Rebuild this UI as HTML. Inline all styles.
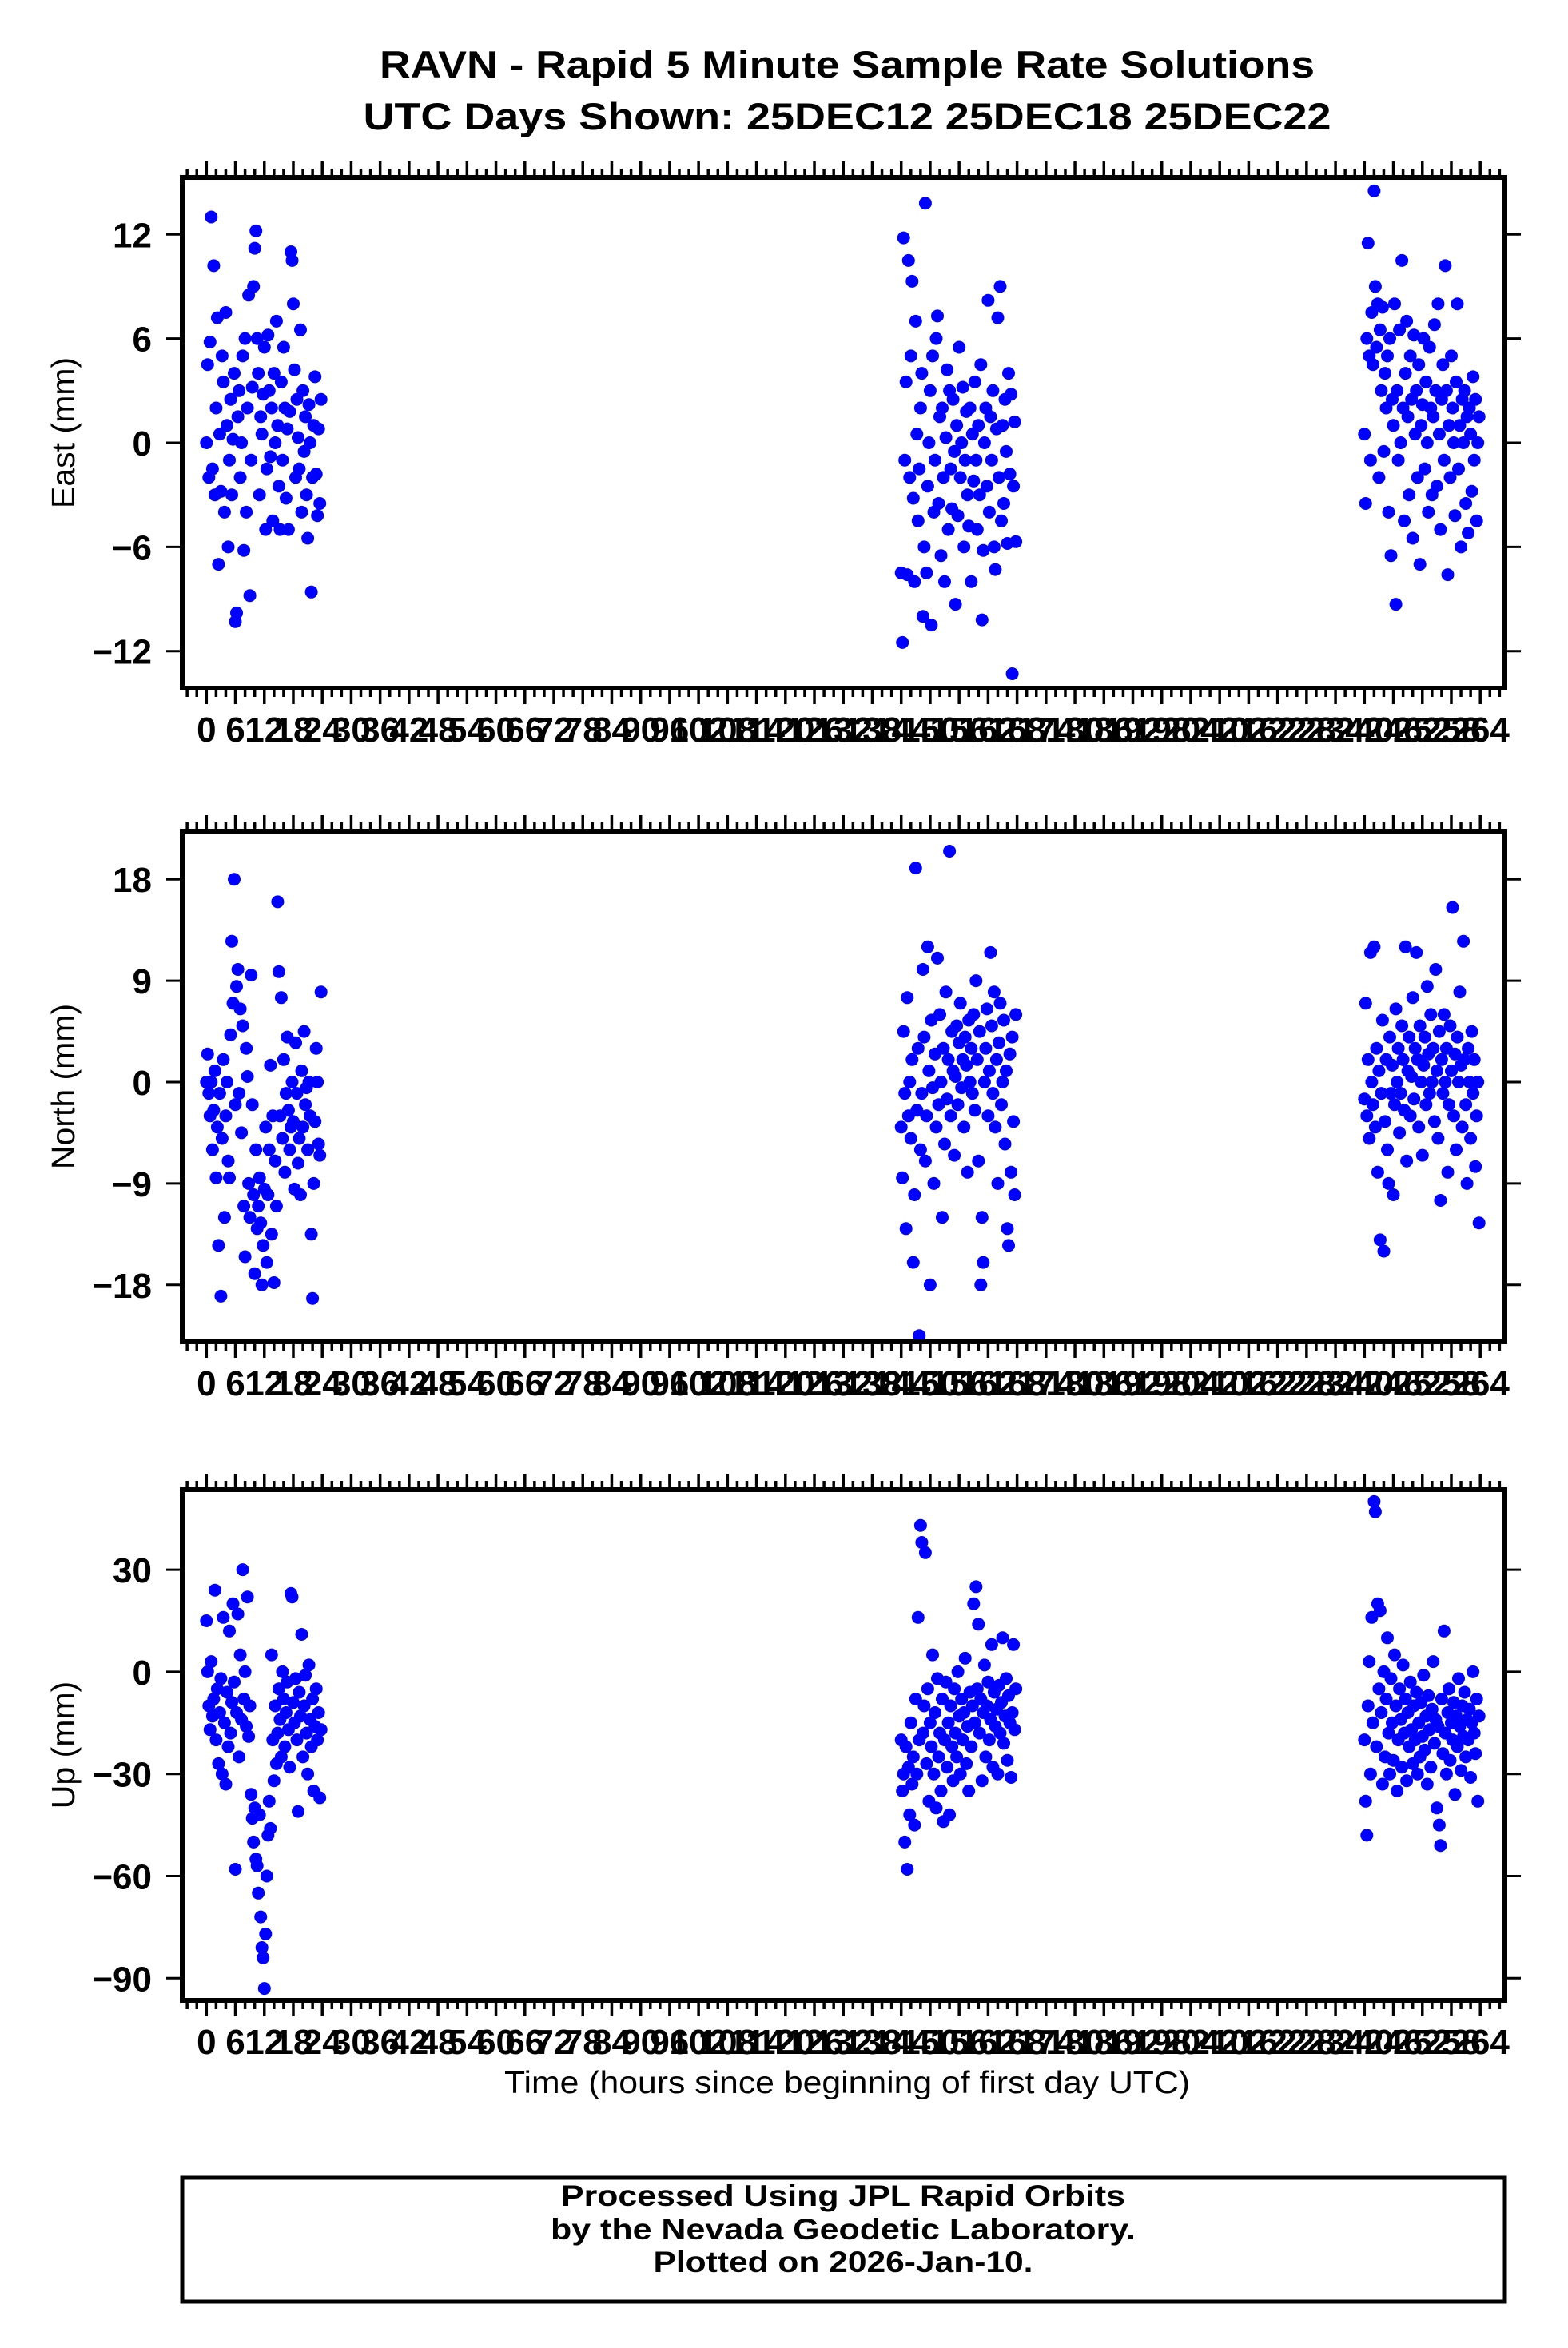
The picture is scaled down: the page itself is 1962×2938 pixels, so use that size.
<!DOCTYPE html>
<html><head><meta charset="utf-8">
<style>
html,body{margin:0;padding:0;background:#fff;}
svg{display:block;font-family:"Liberation Sans",Arial,sans-serif;}
</style></head>
<body>
<svg id="chart" width="1962" height="2938" viewBox="0 0 1962 2938" xmlns="http://www.w3.org/2000/svg">
<rect width="1962" height="2938" fill="#fff"/>
<text x="1060" y="97" text-anchor="middle" font-weight="bold" font-size="47" textLength="1170" lengthAdjust="spacingAndGlyphs">RAVN - Rapid 5 Minute Sample Rate Solutions</text>
<text x="1060" y="162" text-anchor="middle" font-weight="bold" font-size="47" textLength="1211" lengthAdjust="spacingAndGlyphs">UTC Days Shown:  25DEC12 25DEC18 25DEC22</text>
<g id="panels"></g>
<text x="1060" y="2619" text-anchor="middle" font-size="39" textLength="858" lengthAdjust="spacingAndGlyphs">Time (hours since beginning of first day UTC)</text>
<rect x="228" y="2725" width="1655" height="155" fill="none" stroke="#000" stroke-width="5"/>
<text x="1055" y="2760" text-anchor="middle" font-weight="bold" font-size="37" textLength="706" lengthAdjust="spacingAndGlyphs">Processed Using JPL Rapid Orbits</text>
<text x="1055" y="2802" text-anchor="middle" font-weight="bold" font-size="37" textLength="732" lengthAdjust="spacingAndGlyphs">by the Nevada Geodetic Laboratory.</text>
<text x="1055" y="2843" text-anchor="middle" font-weight="bold" font-size="37" textLength="475" lengthAdjust="spacingAndGlyphs">Plotted on 2026-Jan-10.</text>
</svg>
<script>
const hours = [0,0.25,0.5,0.75,1,1.25,1.5,1.75,2,2.25,2.5,2.75,3,3.25,3.5,3.75,4,4.25,4.5,4.75,5,5.25,5.5,5.75,6,6.25,6.5,6.75,7,7.25,7.5,7.75,8,8.25,8.5,8.75,9,9.25,9.5,9.75,10,10.25,10.5,10.75,11,11.25,11.5,11.75,12,12.25,12.5,12.75,13,13.25,13.5,13.75,14,14.25,14.5,14.75,15,15.25,15.5,15.75,16,16.25,16.5,16.75,17,17.25,17.5,17.75,18,18.25,18.5,18.75,19,19.25,19.5,19.75,20,20.25,20.5,20.75,21,21.25,21.5,21.75,22,22.25,22.5,22.75,23,23.25,23.5,23.75];
const dayOffsets = [0,144,240];
const xTickLabels = [0,6,12,18,24,30,36,42,48,54,60,66,72,78,84,90,96,102,108,114,120,126,132,138,144,150,156,162,168,174,180,186,192,198,204,210,216,222,228,234,240,246,252,258,264];
const eastTicks = [12,6,0,-6,-12];
const northTicks = [18,9,0,-9,-18];
const upTicks = [30,0,-30,-60,-90];
const eastDay1 = [0,4.5,-2,5.8,13,-1.5,10.2,-3,2,7.2,-7,0.5,-2.8,5,3.5,-4,7.5,1,-6,-1,2.5,-3,0.2,4,-10.3,-9.8,1.5,3,-2,0,5,-6.2,6,-4,2,8.5,-8.8,-1,3.2,9,11.2,12.2,6,4,-3,1.5,0.5,2.8,5.5,-5,-1.5,6.2,3,-0.8,2,-4.5,4,0,7,1,-2.5,-5,3.5,-1,5.5,2,-3.2,0.8,-5,1.8,11,10.5,8,4.2,-2,2.5,0.3,-1.5,6.5,-4,3,-0.5,1.5,-3,-5.5,2.2,0,-8.6,-2,1,3.8,-1.8,-4.2,0.8,-3.5,2.5];
const eastDay2 = [-7.5,-11.5,11.8,-1,3.5,-7.6,10.5,-2,5,9.3,-3.2,-8,7,0.5,-4.5,-1.5,2,4,-10,-6,13.8,-7.5,-2.5,0,3,-10.5,5,-4,-1,6,7.3,-3.5,1.5,-6.5,2,-2,-8,0.3,4.2,-5,3,-1.5,-3.8,2.5,-0.5,-9.3,1,-4.2,5.5,-2,0,3.2,-6,-1,1.8,-3,-4.8,2,-8,0.5,-2.2,3.5,-1,-5,1,-3,4.5,-10.2,-6.2,0,2,-2.5,8.2,-4,1.5,-1,3,-6,-7.3,0.8,7.2,-2,9,-4.5,1,-3.5,2.5,-0.5,-5.8,4,-1.8,2.8,-13.3,-2.5,1.2,-5.7];
const eastDay3 = [0.5,-3.5,6,11.5,5,-1,7.5,4.5,14.5,9,5.5,8,-2,6.5,3,7.8,-0.5,4,2,5,-4,6,-6.5,2.5,1,8,-9.3,3,-1,6.5,0,10.5,2,-4.5,4,7,1.5,-3,5,2.5,-5.5,6.2,0.5,3,-2,4.5,-7,1,2.2,6,-1.5,3.5,0,-4,5.5,2,-3,1.5,6.8,3,-2.5,8,0.5,-5,2.5,4.5,-1,10.2,3,-7.6,1,-2,5,2,0,-4.2,3.5,8,-1.5,1,-6,2.5,0,3,-3.5,1.5,-5.2,2,0.5,-2.8,3.8,-1,2.5,-4.5,0,1.5];
const northDay1 = [0,2.5,-1,-3,0,-6,-2.5,1,-8.5,-4,-14.5,-1,-19,-5,2,-12,-3,0,-7,-8.5,4.2,12.5,7,18,-2,8.5,10,-1,6.5,-4.5,5,-11,-15.5,3,0.5,-9,-12,9.5,-2,-10,-17,-6,-13,-11,-8.5,-12.5,-18,-14.5,-9.5,-4,-16,-10,-6,1.5,-13.5,-3,-17.8,-7,-11,16,9.8,-3,7.5,-5,2,-8,-1,4,-2.5,-6,-4,0,-3.5,-9.5,3.5,-1,-7.2,-5,-10,1,-4,4.5,-2,-0.5,-6,0,-3,-13.5,-19.2,-9,-3.5,3,0,-5.5,-6.5,8];
const northDay2 = [-4,-8.5,4.5,-1,-13,7.5,-3,0,-5,2,-16,-10,19,-2.5,3,-22.5,-6,-1,10,4,-7,-3,12,1,-18,5.5,-0.5,-9,2.5,-4,11,-2,6,0,-12,3,-5.5,8,-1.5,2,20.5,-3,4.5,1,-6.5,0.5,5,-2,3.5,7,-0.5,2,-4,4,1.5,-8,5.5,0,3,-1,6,-2.5,9,2,-7,4.5,-18,-12,-16,0,3,6.5,-3,1,11.5,5,-1,8,-4,2,-9,3.5,7,-2,0,5.5,-5.5,1,-13,-14.5,2.5,-8,4,-3.5,-10,6];
const northDay3 = [-1.5,7,-3,2,-5,11.5,0,-2,12,-4,3,-8,1,-14,-1,5.5,-15,-3.5,2,-6,-9,4,-1,1.5,-10,-2,6.5,0,3,-4.5,-1,5,2,-2.5,12,-7,1,4,-3,0.5,7.5,-1.5,3,11.5,2,-4,5,0,-6.5,1.5,4,-2,8.5,2.5,-1,6,0,3,-3.5,10,1,-5,4.5,-10.5,2,-1,6,0,3,-8,-2,5,1,15.5,-3,2.5,-6,4,0,8,1.5,-4,12.5,2,-2,-9,3,0,-5,4.5,-1,2,-7.5,-3,0,-12.5];
const upDay1 = [15,0,-10,-17,3,-13,-8,24,-20,-5,-27,-12,-2,-30,16,-15,-33,-6,-22,12,-18,-9,20,-3,-58,-12,17,-25,5,-14,30,-8,0,-16,22,-19,-10,-36,-43,-50,-40,-55,-57,-65,-42,-72,-81,-84,-93,-77,-60,-48,-38,-46,5,-20,-32,-10,-27,-18,-5,-14,-25,0,-8,-22,-12,-3,-17,-28,23,22,-9,-15,-2,-20,-41,-6,-13,11,-25,-10,-1,-18,-30,2,-14,-22,-8,-35,-16,-5,-20,-12,-37,-17];
const upDay2 = [-20,-35,-30,-50,-22,-58,-28,-42,-15,-33,-25,-45,-8,-30,16,-20,43,38,-18,-10,35,-27,-5,-38,-15,-22,5,-30,-12,-40,-2,-25,-18,-35,-8,-44,-20,-3,-28,-15,-42,-10,-22,-32,-5,-18,-25,0,-13,-30,-8,-20,-12,4,-27,-16,-35,-6,-22,-10,20,-15,25,-5,14,-18,-8,-32,-12,2,-25,-10,-3,-20,-14,8,-28,-6,-16,-11,-30,-4,-18,-9,10,-21,-13,-2,-26,-7,-15,-31,-12,8,-17,-5];
const upDay3 = [-20,-38,-48,-10,3,-30,16,-15,50,47,-22,20,-5,18,-12,-33,0,-25,-8,10,-18,-30,-2,-15,-26,5,-10,-35,-20,-5,-14,-28,2,-18,-8,-32,-12,-22,-3,-17,-27,-10,-20,-6,-30,-15,-25,-9,-19,-1,-23,-13,-33,-7,-17,-28,-11,3,-21,-14,-40,-16,-45,-51,-8,-24,12,-18,-30,-12,-5,-26,-15,-20,-9,-36,-13,-22,-2,-16,-29,-10,-19,-6,-25,-14,-20,-11,-31,-15,0,-18,-24,-8,-38,-13];

const NS = "http://www.w3.org/2000/svg";
const L = 228, R = 1883, XMIN = -5.02, XMAX = 269.1;
function xScale(h){ return L + (h - XMIN) / (XMAX - XMIN) * (R - L); }
function mk(tag, attrs, parent){ const e = document.createElementNS(NS, tag); for (const k in attrs) e.setAttribute(k, attrs[k]); parent.appendChild(e); return e; }

const panels = [
  {name:"east", label:"East (mm)", top:222, bottom:861, ymin:-14.13, ymax:15.28, ticks:eastTicks, series:[eastDay1,eastDay2,eastDay3]},
  {name:"north", label:"North (mm)", top:1040, bottom:1679, ymin:-23.05, ymax:22.27, ticks:northTicks, series:[northDay1,northDay2,northDay3]},
  {name:"up", label:"Up (mm)", top:1864, bottom:2503, ymin:-96.5, ymax:53.5, ticks:upTicks, series:[upDay1,upDay2,upDay3]}
];
const root = document.getElementById("panels");
panels.forEach(p => {
  const g = mk("g", {}, root);
  
  
  const yScale = v => p.bottom - (v - p.ymin) / (p.ymax - p.ymin) * (p.bottom - p.top);
  const pts = mk("g", {fill:"#0000ff"}, g);
  
  
  p.series.forEach((vals, d) => {
    vals.forEach((v, i) => {
      if (hours[i] === undefined) return;
      const c = mk("circle", {cx:xScale(hours[i] + dayOffsets[d]).toFixed(1), cy:yScale(v).toFixed(1), r:8}, pts);
      
      
    });
  });
  const tk = mk("g", {stroke:"#000", "stroke-width":3.5}, g);
  
  
  for (let h = -4; h <= 268; h += 2) {
    const x = xScale(h);
    const len = (h % 6 === 0) ? 18 : 9;
    mk("line", {x1:x, x2:x, y1:p.top - 2, y2:p.top - 2 - len}, tk);
    mk("line", {x1:x, x2:x, y1:p.bottom + 2, y2:p.bottom + 2 + len}, tk);
  }
  const lab = mk("g", {"font-size":44, "font-weight":"bold", "text-anchor":"middle"}, g);
  
  
  xTickLabels.forEach(h => {
    const t = mk("text", {x:xScale(h), y:p.bottom + 67}, lab);
    
    
    t.textContent = h;
  });
  const yl = mk("g", {"font-size":44, "font-weight":"bold", "text-anchor":"end"}, g);
  
  
  p.ticks.forEach(v => {
    const y = yScale(v);
    mk("line", {x1:L - 20, x2:L, y1:y, y2:y, stroke:"#000", "stroke-width":3}, yl);
    mk("line", {x1:R, x2:R + 20, y1:y, y2:y, stroke:"#000", "stroke-width":3}, yl);
    const t = mk("text", {x:190, y:y + 16}, yl);
    
    
    t.textContent = v < 0 ? "\u2212" + Math.abs(v) : String(v);
  });
  const cy = (p.top + p.bottom) / 2;
  const ttl = mk("text", {x:0, y:0, "font-size":41, "text-anchor":"middle", transform:"translate(93," + cy + ") rotate(-90)"}, g);
  
  
  ttl.textContent = p.label;
  const fr = mk("rect", {x:L, y:p.top, width:R - L, height:p.bottom - p.top, fill:"none", stroke:"#000", "stroke-width":6}, g);
  
  
});
</script>
</body></html>
